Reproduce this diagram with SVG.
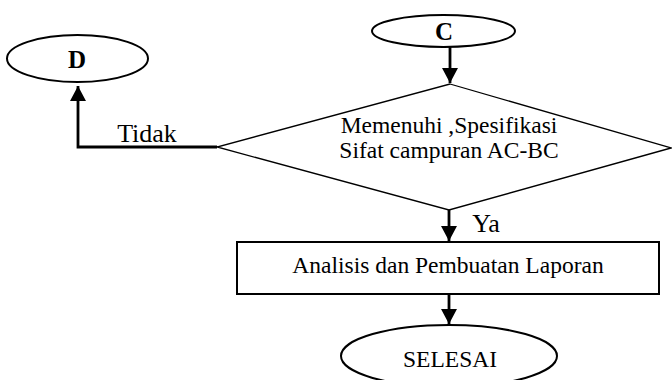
<svg xmlns="http://www.w3.org/2000/svg" width="672" height="380" viewBox="0 0 672 380">
<style>
.shape{fill:#fff;stroke:#000;stroke-width:2}
.dia{fill:#fff;stroke:#000;stroke-width:1.3}
.conn{fill:none;stroke:#000;stroke-width:2.8}
text{font-family:"Liberation Serif","Times New Roman",serif;fill:#000;text-anchor:middle}
.b{font-weight:bold;font-size:25px}
.t{font-size:23.5px}
.lbl{font-size:26px}
</style>
<defs>
<marker id="ah" markerUnits="userSpaceOnUse" markerWidth="16" markerHeight="16" refX="15" refY="8" orient="auto">
<path d="M0,0 L15,8 L0,16 Z" fill="#000"/>
</marker>
</defs>
<g id="connectors">
<path class="conn" d="M217,147 L78,147 L78,86" marker-end="url(#ah)"/>
<path class="conn" d="M450,47 L450,83" marker-end="url(#ah)"/>
<path class="conn" d="M449,210 L449,241" marker-end="url(#ah)"/>
<path class="conn" d="M449,294 L449,324" marker-end="url(#ah)"/>
<text class="lbl" x="147" y="142">Tidak</text>
<text class="lbl" x="486" y="232">Ya</text>
</g>
<g id="nodeD">
<ellipse class="shape" cx="77.5" cy="58.5" rx="70.5" ry="23.5"/>
<text class="b" x="77" y="68">D</text>
</g>
<g id="nodeC">
<ellipse class="shape" cx="443.5" cy="31" rx="71.5" ry="16"/>
<text class="b" x="444" y="40">C</text>
</g>
<g id="decision">
<polygon class="dia" points="450,84 671,148 449,210 217,147"/>
<text class="t" x="449" y="133">Memenuhi ,Spesifikasi</text>
<text class="t" x="449" y="158">Sifat campuran AC-BC</text>
</g>
<g id="report">
<rect class="shape" x="237" y="242" width="422" height="52"/>
<text class="t" x="448" y="273">Analisis dan Pembuatan Laporan</text>
</g>
<g id="selesai">
<ellipse class="shape" cx="449" cy="356" rx="108" ry="31"/>
<text class="t" x="450" y="367">SELESAI</text>
</g>
</svg>
